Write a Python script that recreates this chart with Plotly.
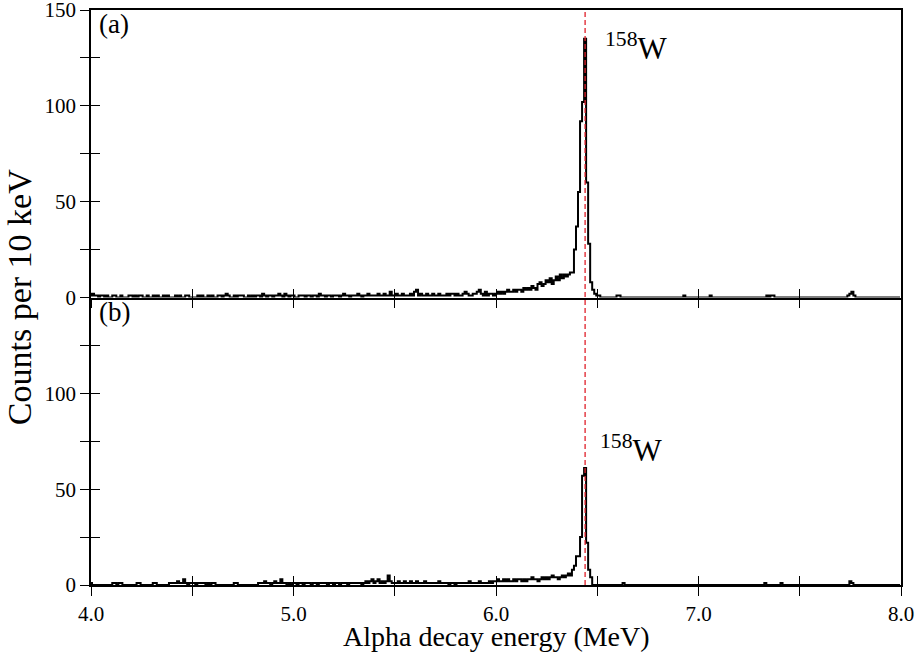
import plotly.graph_objects as go

# ---------------- data (counts per 10 keV bin) ----------------
bin_start = 4.00      # MeV, centre of first bin
bin_width = 0.01      # MeV (10 keV)

# panel (a)
a_4 = [1,2,1,1,0,1,1,0,1,0, 0,1,1,0,0,1,0,0,0,1, 1,0,1,0,1,1,0,0,1,0, 0,1,0,1,0,0,1,0,1,0,
       0,0,1,0,1,0,0,1,1,0, 0,0,0,1,0,1,0,0,1,0, 1,0,0,1,1,0,1,2,1,0, 0,1,0,1,1,1,0,0,1,0,
       1,0,1,1,0,2,1,0,1,1, 0,1,1,2,1,0,2,1,0,1]
a_5 = [1,0,0,1,1,1,0,1,1,0, 1,1,0,2,1,1,0,1,1,0, 1,1,1,0,1,2,1,1,0,1, 1,1,2,1,0,1,1,2,1,1,
       1,1,2,1,1,2,1,1,3,1, 1,2,1,1,2,1,1,1,2,1, 3,4,1,2,1,1,2,1,1,2, 1,1,2,1,1,1,2,1,2,2,
       1,2,1,1,2,3,2,1,1,2, 2,3,4,2,1,3,1,2,2,1]
a_6 = [2,3,2,3,2,3,4,3,3,4, 3,4,4,3,5,4,5,4,6,5, 4,7,8,6,7,9,8,10,7,9, 11,9,12,10,12,11,12,13,13,25,
       37,55,92,102,135,60,28,8,4,2, 1,1,0,0,0,0,0,0,0,0, 1,1,0,0,0,0,0,0,0,0, 0,0,0,0,0,0,0,0,0,0,
       0,0,0,0,0,0,0,0,0,0, 0,0,0,1,0,0,0,0,0,0]
a_7 = [0,0,0,0,0,0,1,0,0,0, 0,0,0,0,0,0,0,0,0,0, 0,0,0,0,0,0,0,0,0,0, 0,0,0,0,1,0,1,1,0,0,
       0,0,0,0,0,0,0,0,0,0, 0,0,0,0,0,0,0,0,0,0, 0,0,0,0,0,0,0,0,0,0, 0,0,0,0,1,2,3,1,0,0,
       0,0,0,0,0,0,0,0,0,0, 0,0,0,0,0,0,0,0,0,0]

# panel (b)
b_4 = [1,0,0,0,0,0,0,0,0,0, 0,1,1,0,1,1,0,0,0,0, 0,0,0,1,1,0,0,0,0,0, 0,1,1,0,0,0,0,0,0,1,
       1,1,1,2,1,1,3,1,0,1, 1,1,0,1,1,1,1,0,1,0, 1,1,0,0,0,0,0,0,0,0, 0,1,1,0,0,0,0,0,0,0,
       0,0,0,1,1,1,2,1,1,0, 1,2,1,1,3,1,1,0,1,0]
b_5 = [1,1,0,1,1,0,1,1,1,0, 1,1,0,1,1,1,1,0,1,1, 0,1,1,0,1,1,1,0,1,1, 1,1,1,1,0,1,2,1,2,3,
       1,2,3,1,2,1,2,5,2,1, 1,1,2,1,1,2,1,1,2,1, 1,2,1,1,1,2,1,1,1,1, 1,1,2,1,1,1,1,0,1,1,
       0,1,1,1,1,1,1,2,1,1, 1,1,2,1,1,1,1,2,1,2]
b_6 = [2,3,2,2,3,2,3,2,2,3, 2,3,3,2,3,2,3,3,4,3, 3,2,3,4,3,4,3,4,5,4, 4,3,4,5,4,5,6,5,8,10,
       15,15,25,57,61,22,8,4,0,0, 0,0,0,0,0,0,0,0,0,0, 0,0,0,1,0,0,0,0,0,0, 0,0,0,0,0,0,0,0,0,0,
       0,0,0,0,0,0,0,0,0,0, 0,0,0,0,0,0,0,0,0,0]
b_7 = [0,0,0,0,0,0,0,0,0,0, 0,0,0,0,0,0,0,0,0,0, 0,0,0,0,0,0,0,0,0,0, 0,0,0,1,0,0,0,0,0,0,
       0,1,0,0,0,0,0,0,0,0, 0,0,0,0,0,0,0,0,0,0, 0,0,0,0,0,0,0,0,0,0, 0,0,0,0,0,2,1,0,0,0,
       0,0,0,0,0,0,0,0,0,0, 0,0,0,0,0,0,0,0,0,0]

counts_a = a_4 + a_5 + a_6 + a_7
counts_b = b_4 + b_5 + b_6 + b_7

peak_energy = 6.44          # 158W alpha line (MeV)
peak_label = "<sup>158</sup>W"

x_major = [4.0, 5.0, 6.0, 7.0, 8.0]
x_major_text = ["4.0", "5.0", "6.0", "7.0", "8.0"]
x_all_ticks = [4.0, 4.5, 5.0, 5.5, 6.0, 6.5, 7.0, 7.5, 8.0]
ya_major = [0, 50, 100, 150]
yb_major = [0, 50, 100]
ya_all_ticks = [0, 25, 50, 75, 100, 125, 150]
yb_all_ticks = [0, 25, 50, 75, 100, 125]

# ---------------- figure ----------------
FONT = "Liberation Serif"
edges = [bin_start - bin_width / 2 + i * bin_width for i in range(len(counts_a) + 1)]

def step_xy(counts):
    return edges, counts + [counts[-1]]

fig = go.Figure()
xs, ys = step_xy(counts_a)
fig.add_trace(go.Scatter(x=xs, y=ys, mode="lines", line=dict(shape="hv", color="black", width=2),
                         xaxis="x2", yaxis="y2", showlegend=False, hoverinfo="skip"))
xs, ys = step_xy(counts_b)
fig.add_trace(go.Scatter(x=xs, y=ys, mode="lines", line=dict(shape="hv", color="black", width=2),
                         xaxis="x", yaxis="y", showlegend=False, hoverinfo="skip"))
# empty traces to activate overlay axes (inward ticks)
for xa, ya in [("x3", "y"), ("x4", "y2"), ("x", "y3"), ("x2", "y4")]:
    fig.add_trace(go.Scatter(x=[None], y=[None], xaxis=xa, yaxis=ya, showlegend=False, hoverinfo="skip"))

tick_font = dict(family=FONT, size=21, color="black")
common_x = dict(range=[4, 8], ticklen=9, tickwidth=1, tickcolor="black",
                showgrid=False, zeroline=False, automargin=False, ticklabeloverflow="allow")
common_y = dict(range=[0, 150], ticklen=9, tickwidth=1, tickcolor="black", showgrid=False,
                zeroline=False, automargin=False, ticklabeloverflow="allow")

fig.update_layout(
    width=919, height=653,
    margin=dict(l=91, r=18, t=10, b=68),
    paper_bgcolor="white", plot_bgcolor="white",
    font=dict(family=FONT, color="black"),
    xaxis=dict(**common_x, domain=[0, 1], anchor="y", ticks="outside", tickmode="array",
               tickvals=x_major, ticktext=x_major_text, tickfont=tick_font,
               showline=True, linecolor="black", linewidth=1.5,
               minor=dict(tickvals=x_all_ticks, ticks="outside", ticklen=9, tickcolor="black", tickwidth=1)),
    xaxis2=dict(**common_x, domain=[0, 1], anchor="y2", ticks="outside", tickvals=x_all_ticks,
                showticklabels=False, showline=True, linecolor="black", linewidth=1.5, mirror=True,
                matches="x"),
    xaxis3=dict(**common_x, overlaying="x", anchor="y", ticks="inside", tickvals=x_all_ticks,
                showticklabels=False, showline=False, matches="x"),
    xaxis4=dict(**common_x, overlaying="x2", anchor="y2", ticks="inside", tickvals=x_all_ticks,
                showticklabels=False, showline=False, matches="x"),
    yaxis=dict(**common_y, domain=[0, 0.5], anchor="x", ticks="outside", tickvals=yb_major,
               tickfont=tick_font, showline=True, linecolor="black", linewidth=1.5, mirror=True,
               minor=dict(tickvals=yb_all_ticks, ticks="outside", ticklen=9, tickcolor="black", tickwidth=1)),
    yaxis2=dict(**common_y, domain=[0.5, 1], anchor="x2", ticks="outside", tickvals=ya_major,
                tickfont=tick_font, showline=True, linecolor="black", linewidth=1.5, mirror=True,
                minor=dict(tickvals=ya_all_ticks, ticks="outside", ticklen=9, tickcolor="black", tickwidth=1)),
    yaxis3=dict(**common_y, overlaying="y", anchor="x", ticks="inside", tickvals=yb_all_ticks,
                showticklabels=False, showline=False),
    yaxis4=dict(**common_y, overlaying="y2", anchor="x2", ticks="inside", tickvals=ya_all_ticks,
                showticklabels=False, showline=False),
)

# red dashed reference line through both panels
fig.add_shape(type="line", xref="x", yref="paper", x0=peak_energy, x1=peak_energy, y0=0, y1=1,
              line=dict(color="#e0202a", width=1.3, dash="5px,3px"))

ann_font = dict(family=FONT, size=27, color="black")
fig.add_annotation(text="(a)", xref="paper", yref="paper", x=0.007, y=0.976,
                   xanchor="left", yanchor="middle", showarrow=False, font=ann_font)
fig.add_annotation(text="(b)", xref="paper", yref="paper", x=0.007, y=0.475,
                   xanchor="left", yanchor="middle", showarrow=False, font=ann_font)
fig.add_annotation(text=peak_label, xref="x2", yref="y2", x=6.53, y=131,
                   xanchor="left", yanchor="middle", showarrow=False,
                   font=dict(family=FONT, size=31, color="black"))
fig.add_annotation(text=peak_label, xref="x", yref="y", x=6.505, y=71,
                   xanchor="left", yanchor="middle", showarrow=False,
                   font=dict(family=FONT, size=31, color="black"))
fig.add_annotation(text="Counts per 10 keV", xref="paper", yref="paper", x=-0.088, y=0.5,
                   xanchor="center", yanchor="middle", textangle=-90, showarrow=False,
                   font=dict(family=FONT, size=34, color="black"))
fig.add_annotation(text="Alpha decay energy (MeV)", xref="paper", yref="paper", x=0.5, y=-0.09,
                   xanchor="center", yanchor="middle", showarrow=False,
                   font=dict(family=FONT, size=28, color="black"))

fig.write_html("out.html")
